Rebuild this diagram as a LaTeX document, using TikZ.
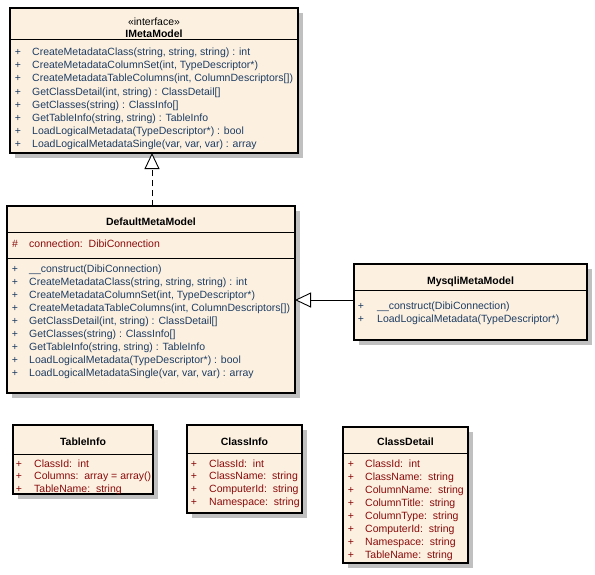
\documentclass[tikz,border=0pt]{standalone}
\usepackage{fontspec}
\setmainfont{Liberation Sans}
\usetikzlibrary{arrows.meta,shadows}
\definecolor{cream}{HTML}{FCF1E1}
\definecolor{shade}{HTML}{C0C0C0}
\definecolor{mcol}{HTML}{1E3C62}
\definecolor{acol}{HTML}{8A0A0A}
\begin{document}
\begin{tikzpicture}[x=1pt,y=-1pt,
  font=\fontsize{10.5}{12}\selectfont,
  cls/.style={draw=black, line width=1.3pt, fill=cream, anchor=north west,
    inner sep=0pt, outer sep=0pt,
    drop shadow={shadow xshift=4.5pt, shadow yshift=-4.5pt, fill=shade, opacity=1}},
  div/.style={line width=0.9pt},
  ttl/.style={font=\fontsize{10.5}{12}\selectfont\bfseries, anchor=base, inner sep=0pt},
  stereo/.style={anchor=base, inner sep=0pt},
  mth/.style={text=mcol, anchor=base west, inner sep=0pt},
  mpl/.style={text=mcol, anchor=base, inner sep=0pt},
  att/.style={text=acol, anchor=base west, inner sep=0pt},
  apl/.style={text=acol, anchor=base, inner sep=0pt},
  tri/.style={-{Triangle[open, fill=white, width=15pt, length=16pt]}},
]
\useasboundingbox (0,0) rectangle (595,574);

% IMetaModel
\node[cls, minimum width=288pt, minimum height=145pt] (imm) at (10,8) {};
\draw[div] (imm.west |- 0,39) -- (imm.east |- 0,39);
\node[stereo] (imm-st) at (154,25) {«interface»};
\node[ttl] (imm-t) at (154,37) {IMetaModel};
\foreach \t [count=\i] in {{CreateMetadataClass(string, string, string) : int},
  {CreateMetadataColumnSet(int, TypeDescriptor*)},
  {CreateMetadataTableColumns(int, ColumnDescriptors[])},
  {GetClassDetail(int, string) : ClassDetail[]},
  {GetClasses(string) : ClassInfo[]},
  {GetTableInfo(string, string) : TableInfo},
  {LoadLogicalMetadata(TypeDescriptor*) : bool},
  {LoadLogicalMetadataSingle(var, var, var) : array}}{
  \node[mpl] (imm-p\i) at (18,{55.7+13.1*(\i-1)}) {+};
  \node[mth] (imm-m\i) at (32,{55.7+13.1*(\i-1)}) {\t};
}

% DefaultMetaModel
\node[cls, minimum width=288pt, minimum height=187pt] (dmm) at (7,206) {};
\draw[div] (dmm.west |- 0,232) -- (dmm.east |- 0,232);
\draw[div] (dmm.west |- 0,258) -- (dmm.east |- 0,258);
\node[ttl] (dmm-t) at (151,225) {DefaultMetaModel};
\node[apl] (dmm-ap) at (15,247) {\#};
\node[att] (dmm-a) at (29,247) {connection:\ \ DibiConnection};
\foreach \t [count=\i] in {{\_\_construct(DibiConnection)},
  {CreateMetadataClass(string, string, string) : int},
  {CreateMetadataColumnSet(int, TypeDescriptor*)},
  {CreateMetadataTableColumns(int, ColumnDescriptors[])},
  {GetClassDetail(int, string) : ClassDetail[]},
  {GetClasses(string) : ClassInfo[]},
  {GetTableInfo(string, string) : TableInfo},
  {LoadLogicalMetadata(TypeDescriptor*) : bool},
  {LoadLogicalMetadataSingle(var, var, var) : array}}{
  \node[mpl] (dmm-p\i) at (15,{272.3+13*(\i-1)}) {+};
  \node[mth] (dmm-m\i) at (29,{272.3+13*(\i-1)}) {\t};
}

% MysqliMetaModel
\node[cls, minimum width=233pt, minimum height=76pt] (mmm) at (354,264) {};
\draw[div] (mmm.west |- 0,290) -- (mmm.east |- 0,290);
\node[ttl] (mmm-t) at (470.5,284) {MysqliMetaModel};
\foreach \t [count=\i] in {{\_\_construct(DibiConnection)},
  {LoadLogicalMetadata(TypeDescriptor*)}}{
  \node[mpl] (mmm-p\i) at (361,{309+13*(\i-1)}) {+};
  \node[mth] (mmm-m\i) at (377,{309+13*(\i-1)}) {\t};
}

% TableInfo
\node[cls, minimum width=140pt, minimum height=69pt] (ti) at (13,425) {};
\draw[div] (ti.west |- 0,454) -- (ti.east |- 0,454);
\node[ttl] (ti-t) at (83,445) {TableInfo};
\foreach \t [count=\i] in {{ClassId:\ \ int},
  {Columns:\ \ array = array()},
  {TableName:\ \ string}}{
  \node[apl] (ti-p\i) at (19,{467+12.9*(\i-1)}) {+};
  \node[att] (ti-a\i) at (34,{467+12.9*(\i-1)}) {\t};
}

% ClassInfo
\node[cls, minimum width=115pt, minimum height=88pt] (ci) at (187,425) {};
\draw[div] (ci.west |- 0,453) -- (ci.east |- 0,453);
\node[ttl] (ci-t) at (244.5,445) {ClassInfo};
\foreach \t [count=\i] in {{ClassId:\ \ int},
  {ClassName:\ \ string},
  {ComputerId:\ \ string},
  {Namespace:\ \ string}}{
  \node[apl] (ci-p\i) at (194,{467+12.9*(\i-1)}) {+};
  \node[att] (ci-a\i) at (209,{467+12.9*(\i-1)}) {\t};
}

% ClassDetail
\node[cls, minimum width=125pt, minimum height=136pt] (cd) at (343,427) {};
\draw[div] (cd.west |- 0,453) -- (cd.east |- 0,453);
\node[ttl] (cd-t) at (405.5,445) {ClassDetail};
\foreach \t [count=\i] in {{ClassId:\ \ int},
  {ClassName:\ \ string},
  {ColumnName:\ \ string},
  {ColumnTitle:\ \ string},
  {ColumnType:\ \ string},
  {ComputerId:\ \ string},
  {Namespace:\ \ string},
  {TableName:\ \ string}}{
  \node[apl] (cd-p\i) at (351,{467+13*(\i-1)}) {+};
  \node[att] (cd-a\i) at (365,{467+13*(\i-1)}) {\t};
}

% connectors
\draw[tri, line width=0.9pt, dash pattern=on 6pt off 4pt] (dmm.north -| 152,0) -- (imm.south -| 152,0);
\draw[tri, line width=0.9pt] (mmm.west |- 0,300) -- (dmm.east |- 0,300);
\end{tikzpicture}
\end{document}
